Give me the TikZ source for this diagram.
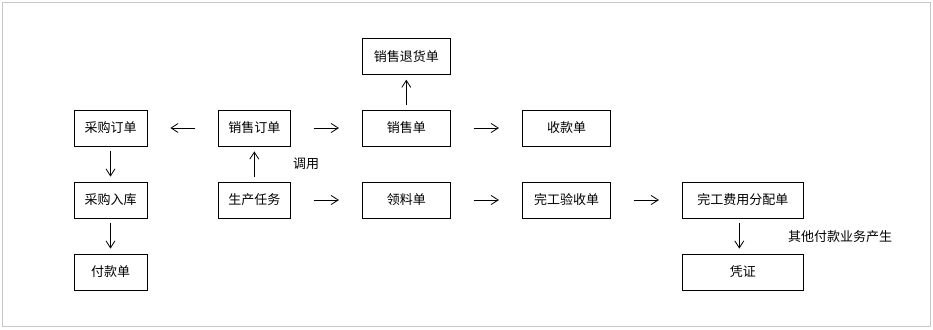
\documentclass[tikz,border=0pt]{standalone}
\usepackage{fontspec}
\newfontfamily\cjk{Noto Sans CJK SC}
\usetikzlibrary{arrows.meta, positioning, calc}
\definecolor{frame}{HTML}{C8C8C8}

\begin{document}
\begin{tikzpicture}[
  x=1pt, y=-1pt,
  >={Straight Barb[length=7pt, width=9pt]},
  docbox/.style={
    draw=black, line width=0.8pt, fill=white,
    minimum height=36pt, inner sep=0pt,
    font=\cjk\fontsize{13}{15}\selectfont
  },
  harr/.style={->, line width=0.8pt, shorten <=23pt, shorten >=23pt},
  varr/.style={->, line width=0.8pt, shorten <=5pt, shorten >=5pt},
  note/.style={font=\cjk\fontsize{13}{15}\selectfont},
]

% Background
\useasboundingbox (0,0) rectangle (933,329);
\draw[frame, line width=1pt] (2.5,2.5) rectangle (930,326.5);

% =============================================
% Purchase column
% =============================================
\node[docbox, minimum width=73pt] (porder) at (110.5,128) {采购订单};
\node[docbox, minimum width=73pt] (pstock) at (110.5,200) {采购入库};
\node[docbox, minimum width=73pt] (pay)    at (110.5,272) {付款单};

% =============================================
% Sales order and production task
% =============================================
\node[docbox, minimum width=72pt] (sorder) at (254.3,128) {销售订单};
\node[docbox, minimum width=72pt] (task)   at (254.3,200) {生产任务};

% =============================================
% Sales and material
% =============================================
\node[docbox, minimum width=88pt] (sreturn) at (406.3,56.3) {销售退货单};
\node[docbox, minimum width=88pt] (sale)    at (406.3,128) {销售单};
\node[docbox, minimum width=88pt] (pick)    at (406.3,200) {领料单};

% =============================================
% Receipt and completion
% =============================================
\node[docbox, minimum width=88.4pt] (receipt) at (566.5,128) {收款单};
\node[docbox, minimum width=88.4pt] (finish)  at (566.5,200) {完工验收单};

% =============================================
% Cost allocation and voucher
% =============================================
\node[docbox, minimum width=121pt] (costalloc) at (742.8,200) {完工费用分配单};
\node[docbox, minimum width=121pt] (voucher)   at (742.8,272) {凭证};

% Labels
\node[note] (call)  at (306,164) {调用};
\node[note] (other) at (840,237) {其他付款业务产生};

% Connectors
\draw[harr] (sorder) -- (porder);
\draw[varr] (porder) -- (pstock);
\draw[varr] (pstock) -- (pay);
\draw[varr] (task) -- (sorder);
\draw[harr] (sorder) -- (sale);
\draw[harr] (task) -- (pick);
\draw[varr] (sale) -- (sreturn);
\draw[harr] (sale) -- (receipt);
\draw[harr] (pick) -- (finish);
\draw[harr] (finish) -- (costalloc);
\draw[varr] ([xshift=-3.5pt]costalloc.south) -- ([xshift=-3.5pt]voucher.north);

\end{tikzpicture}
\end{document}
